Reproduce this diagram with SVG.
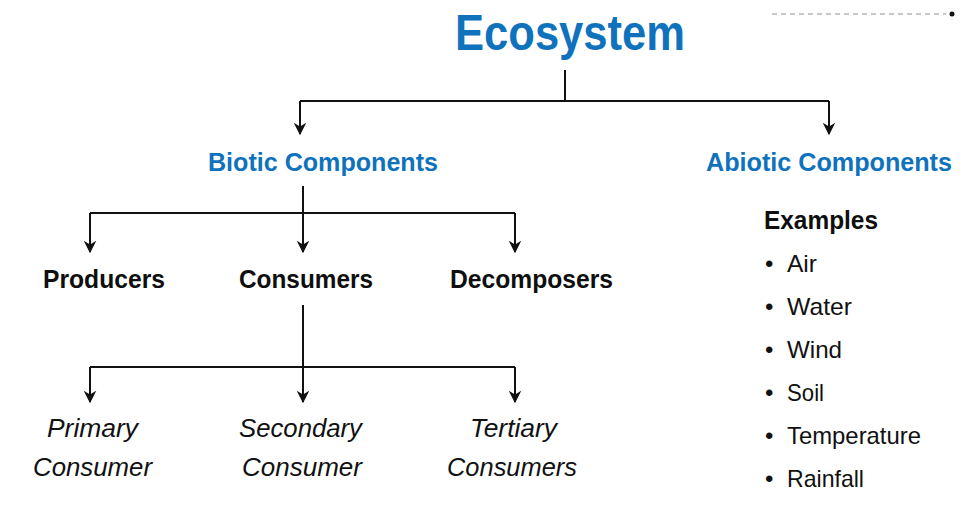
<svg xmlns="http://www.w3.org/2000/svg" width="970" height="519" viewBox="0 0 970 519">
  <defs>
    <marker id="arrow" markerUnits="userSpaceOnUse" markerWidth="20" markerHeight="20" refX="0" refY="0" orient="auto" viewBox="-12 -8 14 16" overflow="visible">
      <path d="M1,0 L-9,-5 L-6,0 L-9,5 Z" fill="#111"/>
    </marker>
  </defs>
  <style>
    .bg { fill: #ffffff; }
    .title { font-family: "Liberation Sans", Arial, sans-serif; font-weight: bold; fill: #0f72bd; }
    .head { font-family: "Liberation Sans", Arial, sans-serif; font-weight: bold; fill: #0f0f0f; font-size: 26px; }
    .sub { font-family: "Liberation Sans", Arial, sans-serif; font-style: italic; fill: #111; font-size: 25px; }
    .item { font-family: "Liberation Sans", Arial, sans-serif; fill: #111; font-size: 24px; }
    .link { fill: none; stroke: #111; stroke-width: 2; }
    .arr { marker-end: url(#arrow); }
  </style>

  <rect class="bg" x="0" y="0" width="970" height="519"/>

  <!-- clipped header strip, top right -->
  <line x1="772" y1="14" x2="946" y2="14" stroke="#c8c8c8" stroke-width="2" stroke-dasharray="5 4"/>
  <circle cx="952" cy="14" r="2.5" fill="#111"/>

  <g id="ecosystem">
    <text class="title" x="455" y="50" font-size="50" textLength="230" lengthAdjust="spacingAndGlyphs">Ecosystem</text>
  </g>

  <g id="biotic">
    <text class="title" x="208" y="171" font-size="25" textLength="230" lengthAdjust="spacingAndGlyphs">Biotic Components</text>
  </g>

  <g id="abiotic">
    <text class="title" x="706" y="171" font-size="25" textLength="246" lengthAdjust="spacingAndGlyphs">Abiotic Components</text>
  </g>

  <g id="producers">
    <text class="head" x="43" y="288" textLength="122" lengthAdjust="spacingAndGlyphs">Producers</text>
  </g>
  <g id="consumers">
    <text class="head" x="239" y="288" textLength="134" lengthAdjust="spacingAndGlyphs">Consumers</text>
  </g>
  <g id="decomposers">
    <text class="head" x="450" y="288" textLength="163" lengthAdjust="spacingAndGlyphs">Decomposers</text>
  </g>

  <g id="primary">
    <text class="sub" x="47" y="437" textLength="91" lengthAdjust="spacingAndGlyphs">Primary</text>
    <text class="sub" x="33" y="476" textLength="119" lengthAdjust="spacingAndGlyphs">Consumer</text>
  </g>
  <g id="secondary">
    <text class="sub" x="239" y="437" textLength="123" lengthAdjust="spacingAndGlyphs">Secondary</text>
    <text class="sub" x="242" y="476" textLength="120" lengthAdjust="spacingAndGlyphs">Consumer</text>
  </g>
  <g id="tertiary">
    <text class="sub" x="470" y="437" textLength="87" lengthAdjust="spacingAndGlyphs">Tertiary</text>
    <text class="sub" x="447" y="476" textLength="130" lengthAdjust="spacingAndGlyphs">Consumers</text>
  </g>

  <g id="examples">
    <text class="head" x="764" y="229" textLength="114" lengthAdjust="spacingAndGlyphs">Examples</text>
    <g class="item">
      <text x="765" y="272">•</text><text x="787" y="272" textLength="30" lengthAdjust="spacingAndGlyphs">Air</text>
      <text x="765" y="315">•</text><text x="787" y="315" textLength="65" lengthAdjust="spacingAndGlyphs">Water</text>
      <text x="765" y="358">•</text><text x="787" y="358" textLength="55" lengthAdjust="spacingAndGlyphs">Wind</text>
      <text x="765" y="401">•</text><text x="787" y="401" textLength="37" lengthAdjust="spacingAndGlyphs">Soil</text>
      <text x="765" y="444">•</text><text x="787" y="444" textLength="134" lengthAdjust="spacingAndGlyphs">Temperature</text>
      <text x="765" y="487">•</text><text x="787" y="487" textLength="77" lengthAdjust="spacingAndGlyphs">Rainfall</text>
    </g>
  </g>

  <g id="connectors">
    <!-- Ecosystem to its two branches -->
    <path class="link" d="M565 70 V101"/>
    <path class="link" d="M300 101 H829"/>
    <path class="link arr" d="M300 101 V134"/>
    <path class="link arr" d="M829 101 V134"/>
    <!-- Biotic Components to its three groups -->
    <path class="link" d="M303 186 V213"/>
    <path class="link" d="M90 213 H515"/>
    <path class="link arr" d="M90 213 V252"/>
    <path class="link arr" d="M303 213 V252"/>
    <path class="link arr" d="M515 213 V252"/>
    <!-- Consumers to consumer levels -->
    <path class="link" d="M303 305 V367"/>
    <path class="link" d="M90 367 H515"/>
    <path class="link arr" d="M90 367 V402"/>
    <path class="link arr" d="M303 367 V402"/>
    <path class="link arr" d="M515 367 V402"/>
  </g>
</svg>
